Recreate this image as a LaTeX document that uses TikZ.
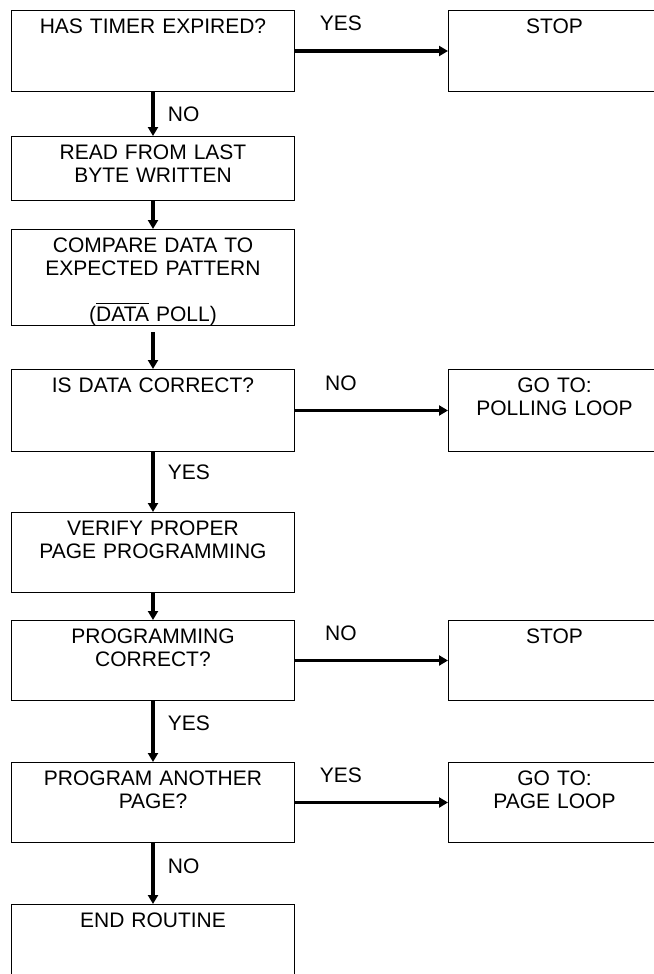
\documentclass[tikz,border=0pt]{standalone}
\usepackage{fontspec}
\setmainfont{Liberation Sans}
\usetikzlibrary{arrows.meta,positioning}
\newcommand{\barred}[1]{\vbox{\hrule height 1.3pt\kern 3pt\hbox{#1}}}
\tikzset{
block/.style = {draw, fill=white, rectangle, line width=1pt, inner sep=0pt, text width=283pt, align=center, text height=23pt, text depth=#1},
side/.style  = {draw, fill=white, rectangle, line width=1pt, inner sep=0pt, text width=252pt, align=center, text height=23pt, text depth=#1,
                execute at begin node={\leftskip=0pt plus 1fil\rightskip=40pt plus 1fil\parfillskip=0pt}},
flow/.style  = {line width=3.8pt, -{Triangle[length=9pt,width=10pt]}},
tag/.style   = {inner sep=0pt}
}

\begin{document}
\begin{tikzpicture}[x=1pt, y=1pt, font=\fontsize{21}{23}\selectfont]
  \useasboundingbox (0,0) rectangle (653,-974);
  \node [block=58pt, anchor=north west]      (timer)    at (11,-10) {HAS TIMER EXPIRED?};
  \node [block=41pt, below=44pt of timer]    (read)     {READ FROM LAST\\BYTE WRITTEN};
  \node [block=73pt, below=28pt of read]     (compare)  {COMPARE DATA TO\\EXPECTED PATTERN\\[23pt](\barred{DATA} POLL)};
  \node [block=59pt, below=43pt of compare]  (check)    {IS DATA CORRECT?};
  \node [block=57pt, below=60pt of check]    (verify)   {VERIFY PROPER\\PAGE PROGRAMMING};
  \node [block=57pt, below=27pt of verify]   (progok)   {PROGRAMMING\\CORRECT?};
  \node [block=57pt, below=61pt of progok]   (another)  {PROGRAM ANOTHER\\PAGE?};
  \node [block=100pt, below=61pt of another] (finish)   {END ROUTINE};
  \node [side=58pt, right=153pt of timer]    (stopa)    {STOP};
  \node [side=59pt, right=153pt of check]    (pollloop) {GO TO:\\POLLING LOOP};
  \node [side=57pt, right=153pt of progok]   (stopb)    {STOP};
  \node [side=57pt, right=153pt of another]  (pageloop) {GO TO:\\PAGE LOOP};

  \draw [flow] (timer) -- node[tag, pos=0.3, above=18pt] {YES} (stopa);
  \draw [flow] (timer) -- node[tag, pos=0.5, right=13pt] {NO} (read);
  \draw [flow] (read) -- (compare);
  \draw [flow, shorten <=6pt] (compare) -- (check);
  \draw [flow] (check) -- node[tag, pos=0.3, above=18pt] {NO} (pollloop);
  \draw [flow] (check) -- node[tag, pos=0.33, right=13pt] {YES} (verify);
  \draw [flow] (verify) -- (progok);
  \draw [flow] (progok) -- node[tag, pos=0.3, above=18pt] {NO} (stopb);
  \draw [flow] (progok) -- node[tag, pos=0.36, right=13pt] {YES} (another);
  \draw [flow] (another) -- node[tag, pos=0.3, above=18pt] {YES} (pageloop);
  \draw [flow] (another) -- node[tag, pos=0.38, right=13pt] {NO} (finish);
\end{tikzpicture}
\end{document}
